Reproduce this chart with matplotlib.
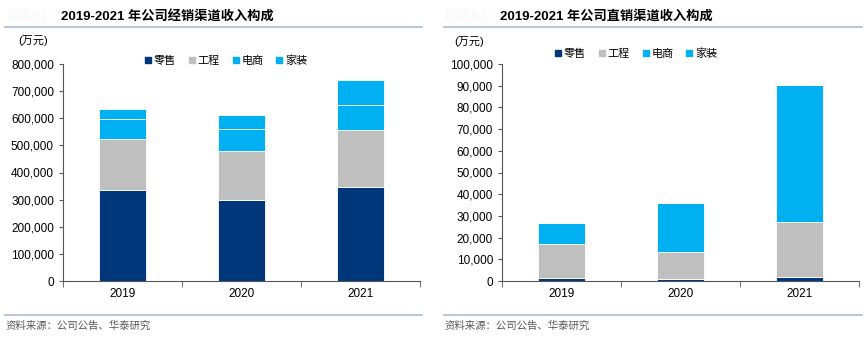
import numpy as np
import matplotlib.pyplot as plt
from matplotlib.lines import Line2D
from matplotlib.ticker import FuncFormatter

plt.rcParams['font.family'] = ['Liberation Sans', 'Noto Sans CJK SC', 'DejaVu Sans']

years = ['2019', '2020', '2021']
canales = ['零售', '工程', '电商', '家装']
colores = ['#00377A', '#BFBFBF', '#00B0F0', '#00B0F0']

# 经销渠道 (万元)
dist_retail = [336000, 300000, 347000]
dist_project = [188000, 179000, 209000]
dist_ecom = [72000, 80000, 93000]
dist_home = [38000, 53000, 92000]

# 直销渠道 (万元)
direct_retail = [1200, 1000, 1800]
direct_project = [15800, 12500, 25500]
direct_ecom = [9600, 22600, 63200]
direct_home = [0, 0, 0]

fig = plt.figure(figsize=(8.66, 3.41), dpi=100)

cjk = ['Noto Sans CJK SC', 'DejaVu Sans']
fmt = FuncFormatter(lambda v, p: '{:,.0f}'.format(v))


def panel(x0, datos, ymax, paso, titulo, tag, leg_x, leg_y, unidad_x, unidad_y):
    ax = fig.add_axes([x0 / 866, 60 / 341, 357 / 866, 217 / 341])
    pos = np.arange(len(years))
    abajo = np.zeros(len(years))
    for serie, c in zip(datos, colores):
        ax.bar(pos, serie, width=0.4, bottom=abajo, color=c,
               edgecolor='white', linewidth=0.6)
        abajo = abajo + np.array(serie)
    ax.set_xlim(-0.5, 2.5)
    ax.set_ylim(0, ymax)
    ax.set_yticks(np.arange(0, ymax + 1, paso))
    ax.yaxis.set_major_formatter(fmt)
    ax.set_xticks(pos)
    ax.set_xticklabels(years)
    ax.set_xticks([-0.5, 0.5, 1.5, 2.5], minor=True)
    ax.tick_params(axis='x', which='major', length=0, pad=5, labelsize=8.5)
    ax.tick_params(axis='x', which='minor', length=4, direction='out', color='#555555')
    ax.tick_params(axis='y', length=3, direction='out', labelsize=8.5, color='#555555')
    for s in ['top', 'right']:
        ax.spines[s].set_visible(False)
    ax.spines['left'].set_color('#555555')
    ax.spines['bottom'].set_color('#555555')

    handles = [Line2D([], [], marker='s', linestyle='', color=c, markersize=4.5)
               for c in colores]
    fig.legend(handles, canales, loc='center', bbox_to_anchor=(leg_x / 866, 1 - leg_y / 341),
               ncol=4, frameon=False, handletextpad=0.05, columnspacing=0.9,
               handlelength=1.0, prop={'family': cjk, 'size': 8})

    fig.text(unidad_x / 866, 1 - unidad_y / 341, '(万元)', fontsize=8,
             family=['Liberation Sans', 'Noto Sans CJK SC'], ha='left', va='center')
    fig.text((x0 - 2) / 866, 1 - 16 / 341, titulo, fontsize=9.5, fontweight='bold',
             family=['Liberation Sans', 'Noto Sans CJK SC'], ha='left', va='center')
    fig.text((x0 - 57) / 866, 1 - 16 / 341, tag, fontsize=9.5, fontweight='bold',
             color='#F8F9FB', family=cjk, ha='left', va='center')
    return ax


panel(63, [dist_retail, dist_project, dist_ecom, dist_home], 800000, 100000,
      '2019-2021 年公司经销渠道收入构成', '图表62:', 225, 61, 18, 41)
panel(502, [direct_retail, direct_project, direct_ecom, direct_home], 100000, 10000,
      '2019-2021 年公司直销渠道收入构成', '图表63:', 635, 54, 454, 42)

# lineas de cabecera y pie
for xa, xb in [(5, 422), (444, 862)]:
    fig.add_artist(Line2D([xa / 866, xb / 866], [1 - 27 / 341] * 2, color='#A9BBD3', lw=1.2))
    fig.add_artist(Line2D([xa / 866, xb / 866], [1 - 315 / 341] * 2, color='#A9BBD3', lw=1.2))
    fig.text((xa + 1) / 866, 1 - 326 / 341, '资料来源：公司公告、华泰研究', fontsize=7.5,
             color='#595959', family=cjk, ha='left', va='center')

fig.savefig('out.png', dpi=100)
